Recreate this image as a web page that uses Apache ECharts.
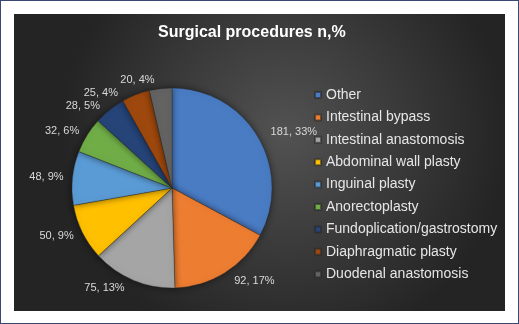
<!DOCTYPE html>
<html>
<head>
<meta charset="utf-8">
<script src="https://cdn.jsdelivr.net/npm/echarts@6/dist/echarts.min.js"></script>
<style>
  html, body { margin: 0; padding: 0; background: #fff; }
  #frame {
    position: relative;
    width: 517px; height: 322px;
    border: 1px solid #3a4773;
    background: #fff;
  }
  #chart-container {
    position: absolute;
    left: 13px; top: 13px;
    width: 491px; height: 297px;
  }
</style>
</head>
<body>
<div id="frame"><div id="chart-container"></div></div>
<script>
// 数据
const categories = ['Other', 'Intestinal bypass', 'Intestinal anastomosis', 'Abdominal wall plasty',
    'Inguinal plasty', 'Anorectoplasty', 'Fundoplication/gastrostomy', 'Diaphragmatic plasty', 'Duodenal anastomosis'];
const counts = [181, 92, 75, 50, 48, 32, 28, 25, 20];
const percentLabels = ['33%', '17%', '13%', '9%', '9%', '6%', '5%', '4%', '4%'];
const sliceColors = ['#4a7cc4', '#ed7d31', '#a5a5a5', '#ffc000', '#5b9bd5', '#70ad47', '#264478', '#9e480e', '#636363'];

document.addEventListener('DOMContentLoaded', () => {
    const chart = echarts.init(document.getElementById('chart-container'));

    const pieData = categories.map((name, i) => ({
        name: name,
        value: counts[i],
        itemStyle: { color: sliceColors[i] },
    }));

    const option = {
        backgroundColor: new echarts.graphic.RadialGradient(0.55, 0.4, 0.75, [
            { offset: 0, color: '#525252' },
            { offset: 1, color: '#242424' },
        ]), // 深色渐变背景
        color: sliceColors,
        title: {
            text: 'Surgical procedures n,%',
            left: 144,
            top: 11,
            padding: 0,
            textStyle: {
                fontFamily: 'Liberation Sans',
                fontSize: 16,
                fontWeight: 'bold',
                color: '#ffffff',
            },
        },
        legend: {
            orient: 'vertical',
            left: 300,
            top: 73,
            padding: 0,
            itemWidth: 6,
            itemHeight: 6,
            itemGap: 6.4,
            icon: 'rect',
            data: categories,
            textStyle: {
                fontFamily: 'Liberation Sans',
                fontSize: 14,
                lineHeight: 16,
                color: '#e6e6e6',
            },
        },
        series: [
            {
                type: 'pie',
                center: [158, 174],
                radius: 100,
                startAngle: 90,
                clockwise: true,
                data: pieData,
                itemStyle: {
                    borderColor: 'rgba(40,40,40,0.6)',
                    borderWidth: 0.6,
                    shadowBlur: 6,
                    shadowColor: 'rgba(0,0,0,0.5)',
                },
                label: {
                    show: true,
                    position: 'outside',
                    formatter: p => `${p.value}, ${percentLabels[p.dataIndex]}`,
                    fontFamily: 'Liberation Sans',
                    fontSize: 11,
                    color: '#d9d9d9',
                },
                labelLine: { show: false, length: 9, length2: 0 },
                emphasis: { scale: false },
            },
        ],
    };

    chart.setOption(option);
});
</script>
</body>
</html>
